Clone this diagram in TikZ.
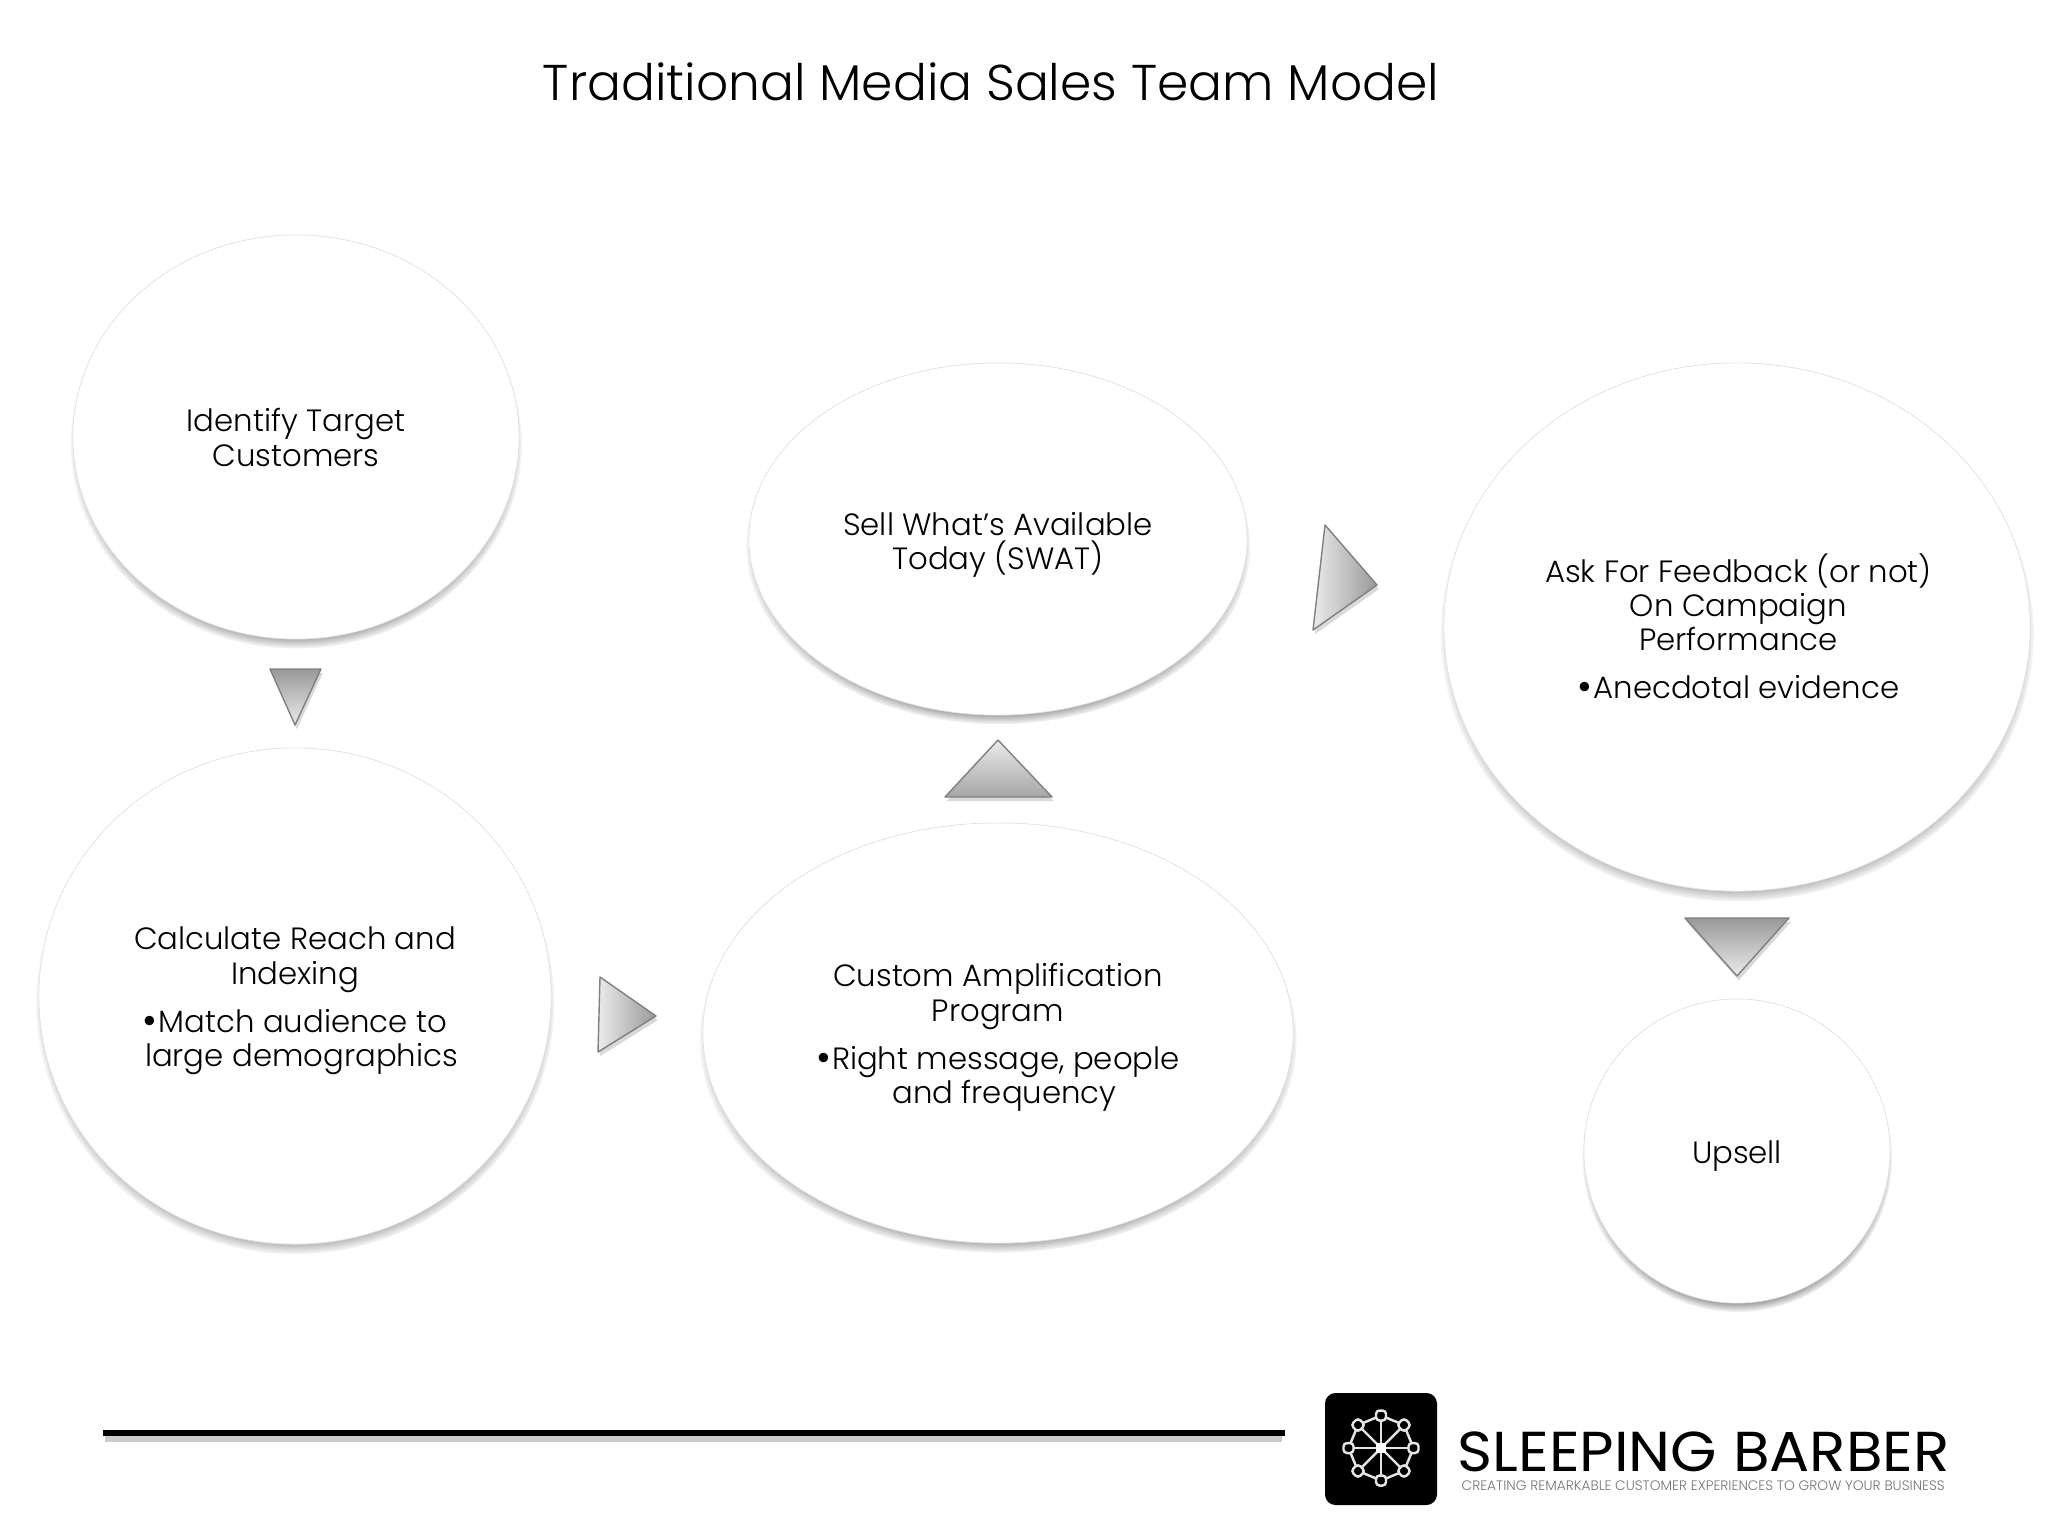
\documentclass[tikz,border=0pt]{standalone}
\usepackage{fontspec}
\setmainfont{Poppins Light}
\newfontfamily\brandfont{Poppins}
\usetikzlibrary{shapes.geometric,shadows,calc}

\newcommand{\listdot}{\raisebox{-0.5pt}{\fontsize{11.5}{9.8}\selectfont•}\hspace{0.3pt}}

\tikzset{
  bubble/.style={ellipse,draw=black!12,line width=0.2pt,fill=white,inner sep=0pt,
    circular drop shadow={shadow xshift=0pt,shadow yshift=-2pt,shadow scale=1.012,fill=black,opacity=0.9}},
  bubbletext/.style={align=center,inner sep=0pt,font=\fontsize{8.75}{9.75}\selectfont},
  pointer/.style={draw=black!50,line width=0.4pt,line join=round,drop shadow={shadow xshift=0.5pt,shadow yshift=-1.2pt,fill=black!25,opacity=0.6}},
  spoke/.style={draw=white!90!black,line width=0.7pt},
}

\begin{document}
\begin{tikzpicture}[x=0.01cm,y=-0.01cm]
  \useasboundingbox (0,0) rectangle (2048,1536);

  % title
  \node (title) at (991,82) {\fontsize{14.3}{18}\selectfont Traditional Media Sales Team Model};

  % circles
  \node[bubble,minimum width=4.46cm,minimum height=4.04cm] (identify) at (296,437) {};
  \node[bubble,minimum width=5.12cm,minimum height=4.96cm] (reach) at (295,996) {};
  \node[bubble,minimum width=5.90cm,minimum height=4.20cm] (custom) at (998,1033) {};
  \node[bubble,minimum width=4.98cm,minimum height=3.52cm] (sell) at (998,539) {};
  \node[bubble,minimum width=5.86cm,minimum height=5.28cm] (ask) at (1737,627) {};
  \node[bubble,minimum width=3.06cm,minimum height=3.04cm] (upsell) at (1737,1151) {};

  % texts of the circles
  \node[bubbletext] (identifytext) at ([yshift=-0.1pt]identify.center) {Identify Target\\Customers};
  \node[bubbletext] (reachtext) at ([yshift=-1.4pt]reach.center) {Calculate Reach and\\Indexing\\[4pt]\listdot Match audience to\\\hspace*{3.7pt}large demographics};
  \node[bubbletext] (customtext) at ([yshift=-1.3pt]custom.center) {Custom Amplification\\Program\\[4pt]\listdot Right message, people\\\hspace*{3.7pt}and frequency};
  \node[bubbletext] (selltext) at ([yshift=-1.6pt]sell.center) {Sell What’s Available\\Today (SWAT)};
  \node[bubbletext] (asktext) at ([xshift=0.4pt]ask.center) {Ask For Feedback (or not)\\On Campaign\\Performance\\[4pt]\listdot Anecdotal evidence};
  \node[bubbletext] (upselltext) at ([yshift=-1.3pt]upsell.center) {Upsell};

  % pointers between the circles
  \foreach \p/\q/\s/\ang/\tone in {
      {270,669}/{321,669}/{295,725}/180/40,
      {600,977}/{656,1016}/{598,1052}/90/40,
      {998,740}/{1052,797}/{945,797}/0/35,
      {1325,525}/{1377,585}/{1313,630}/90/40,
      {1685,918}/{1789,918}/{1737,976}/180/40} {
    \shade[pointer,top color=black!8,bottom color=black!\tone!white,shading angle=\ang] (\p) -- (\q) -- (\s) -- cycle;
  }

  % rule along the foot, with its shadow
  \coordinate (ruleA) at (103,1433);
  \coordinate (ruleB) at (1285,1433);
  \coordinate (shadeA) at (105,1439);
  \coordinate (shadeB) at (1282,1439);
  \draw[line width=1.7pt,black!20] (shadeA) -- (shadeB);
  \draw[line width=1.9pt,black] (ruleA) -- (ruleB);

  % logo
  \fill[black,rounded corners=3pt] (1325,1393) rectangle (1437,1505);
  \coordinate (hub) at (1381,1448);
  \foreach \a in {0,45,...,315} {
    \draw[spoke] (hub) -- ++(\a:32.5);
    \draw[spoke] ($(hub)+(\a:32.5)$) -- ($(hub)+(\a+45:32.5)$);
  }
  \foreach \a in {0,45,...,315} {
    \draw[spoke,fill=black,rounded corners=1pt,rotate around={\a:(hub)}] ($(hub)+(27.5,-5)$) rectangle ++(10,10);
  }
  \fill[white] (hub) ++(-5,-5) rectangle ++(10,10);
  \node[anchor=base west,inner sep=0pt,xscale=1.06,text depth=0pt] (brand) at (1457,1471) {\brandfont\fontsize{16}{18}\selectfont SLEEPING BARBER};
  \node[anchor=base west,inner sep=0pt,text=black!55] (tagline) at (1461,1490) {\fontsize{3.9}{4}\selectfont CREATING REMARKABLE CUSTOMER EXPERIENCES TO GROW YOUR BUSINESS};
\end{tikzpicture}
\end{document}
